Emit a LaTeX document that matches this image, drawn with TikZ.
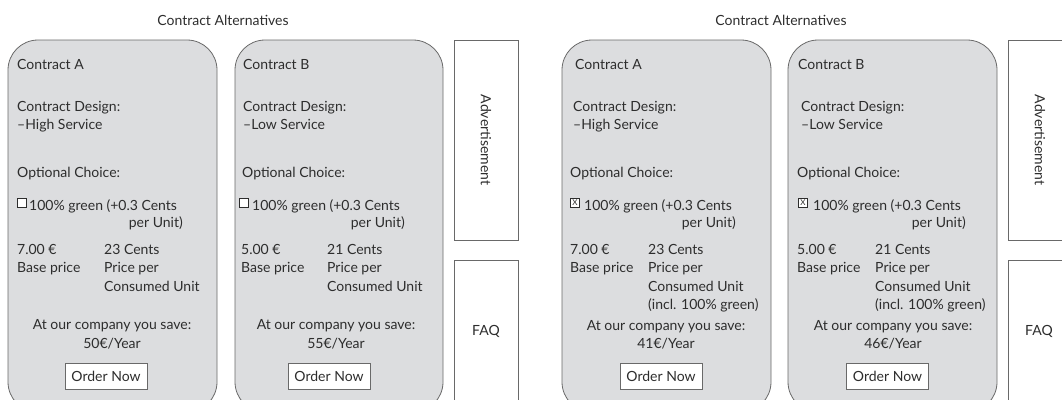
\documentclass[tikz,border=0pt]{standalone}
\usepackage{fontspec}
\setmainfont{Lato}
\definecolor{cardgray}{RGB}{220,221,223}
\definecolor{linegray}{RGB}{105,105,105}
\definecolor{inkgray}{RGB}{45,45,45}

\begin{document}
\begin{tikzpicture}[x=1pt,y=-1pt,
  every node/.style={text=inkgray, font=\fontsize{14}{18.5}\selectfont, inner sep=0pt},
  card/.style={draw=linegray, fill=cardgray, line width=0.8pt, rounded corners=30pt},
  panel/.style={draw=linegray, fill=white, line width=0.8pt},
  txt/.style={anchor=base west, align=left},
  ctr/.style={anchor=base, align=center},
  rgt/.style={anchor=base east},
  chk/.style={draw=inkgray, fill=white, line width=0.6pt, minimum size=9.5pt, font=\fontsize{8}{8}\selectfont},
  btn/.style={draw=linegray, fill=white, line width=0.8pt, minimum width=82pt, minimum height=26pt}]
\useasboundingbox (0,0) rectangle (1062,399);
\clip (0,0) rectangle (1062,399);

% left page: no green option
\node (title1) at (223,20) {Contract Alternatives};
\path[card] (8,40) rectangle (217,412);
\path[card] (235,40) rectangle (443,412);
\path[panel] (454,40) rectangle (518,240);
\path[panel] (454,260) rectangle (518,412);

% multi-line nodes sit on the baseline of their last line
\node[txt] (nameA) at (17,69) {Contract A};
\node[txt] (designA) at (17,129.5) {Contract Design:\\–High Service};
\node[txt] (optA) at (17,177) {Optional Choice:};
\node[chk] (chkA) at (22,203) {};
\node[txt] (greenA) at (29,210) {100\% green (+0.3 Cents};
\node[rgt] (unitA) at (183,227) {per Unit)};
\node[txt] (baseA) at (17,272.5) {7.00 €\\Base price};
\node[txt] (priceA) at (104,291) {23 Cents\\Price per\\Consumed Unit};
\node[ctr] (saveA) at (112,348) {At our company you save:\\50€/Year};
\node[btn] (orderA) at (106,376.5) {Order Now};

\node[txt] (nameB) at (243,69) {Contract B};
\node[txt] (designB) at (243,129.5) {Contract Design:\\–Low Service};
\node[txt] (optB) at (242,177) {Optional Choice:};
\node[chk] (chkB) at (244,203) {};
\node[txt] (greenB) at (252,210) {100\% green (+0.3 Cents};
\node[rgt] (unitB) at (405,227) {per Unit)};
\node[txt] (baseB) at (241,272.5) {5.00 €\\Base price};
\node[txt] (priceB) at (327,291) {21 Cents\\Price per\\Consumed Unit};
\node[ctr] (saveB) at (336,348) {At our company you save:\\55€/Year};
\node[btn] (orderB) at (329,376) {Order Now};

\node[rotate=-90] (advL) at (486,140) {Advertisement};
\node (faqL) at (486,331) {FAQ};

% right page: green option chosen
\node (title2) at (781,20) {Contract Alternatives};
\path[card] (562,40) rectangle (771,412);
\path[card] (788,40) rectangle (997,412);
\path[panel] (1008,40) rectangle (1072,240);
\path[panel] (1008,260) rectangle (1072,412);

\node[txt] (nameC) at (575,69) {Contract A};
\node[txt] (designC) at (573,129.5) {Contract Design:\\–High Service};
\node[txt] (optC) at (570,177) {Optional Choice:};
\node[chk] (chkC) at (575,203) {X};
\node[txt] (greenC) at (584,210) {100\% green (+0.3 Cents};
\node[rgt] (unitC) at (736,227) {per Unit)};
\node[txt] (baseC) at (570,272.5) {7.00 €\\Base price};
\node[txt] (priceC) at (648,309.5) {23 Cents\\Price per\\Consumed Unit\\(incl. 100\% green)};
\node[ctr] (saveC) at (666,330) {At our company you save:};
\node[ctr] (yearC) at (666,348) {41€/Year};
\node[btn] (orderC) at (661,376) {Order Now};

\node[txt] (nameD) at (798,69) {Contract B};
\node[txt] (designD) at (801,129.5) {Contract Design:\\–Low Service};
\node[txt] (optD) at (797,177) {Optional Choice:};
\node[chk] (chkD) at (803,203) {X};
\node[txt] (greenD) at (813,210) {100\% green (+0.3 Cents};
\node[rgt] (unitD) at (966,227) {per Unit)};
\node[txt] (baseD) at (797,272.5) {5.00 €\\Base price};
\node[txt] (priceD) at (875,309.5) {21 Cents\\Price per\\Consumed Unit\\(incl. 100\% green)};
\node[ctr] (saveD) at (893,330) {At our company you save:};
\node[ctr] (yearD) at (893,348) {46€/Year};
\node[btn] (orderD) at (887.5,376) {Order Now};

\node[rotate=-90] (advR) at (1040,140) {Advertisement};
\node (faqR) at (1039,331) {FAQ};
\end{tikzpicture}
\end{document}
